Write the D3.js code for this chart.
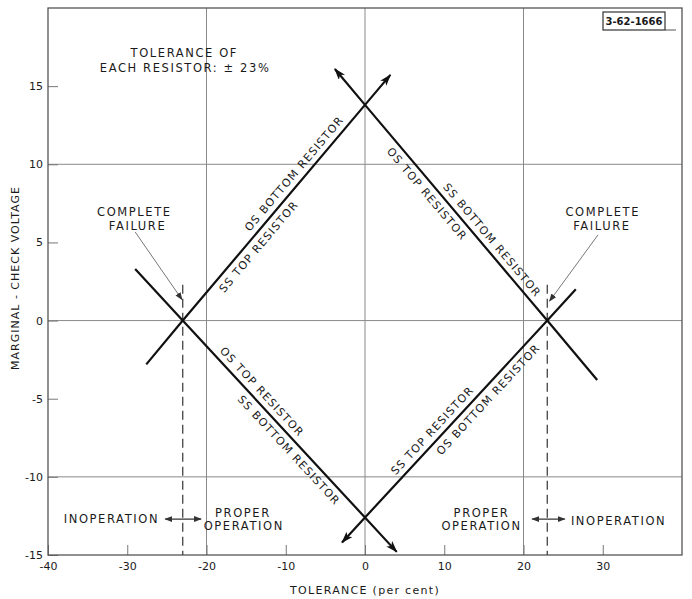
<!DOCTYPE html>
<html><head><meta charset="utf-8">
<script src="https://cdn.jsdelivr.net/npm/d3@7"></script>
<style>
body{margin:0;background:#fff;}
text{font-family:"DejaVu Sans",sans-serif;fill:#1a1a1a;}
</style></head>
<body><svg id="c" width="692" height="599"></svg>
<script>
// ---- data ----
const xTicks = [-40,-30,-20,-10,0,10,20,30];
const xTickLabels = ["-40","-30","-20","-10","0","10","20","30"];
const yTicks = [-15,-10,-5,0,5,10,15];
const yTickLabels = ["-15","-10","-5","0","5","10","15"];
const xGrid = [-20,0,20];
const yGrid = [-10,0,10];
const failX = [-23,23];
const failTopY = 2.3;
// characteristic lines (tolerance %, marginal-check volts)
const lineA = [[-27.6,-2.8],[-23,0],[0,13.8],[3.2,15.72]];   // arrow at end
const lineB = [[-29,3.3],[-23,0],[0,-12.6],[4,-14.8]];       // arrow at end
const lineC = [[-3.8,16.1],[0,13.8],[23,0],[29.3,-3.8]];     // arrow at start
const lineD = [[-2.9,-14.2],[0,-12.6],[23,0],[26.6,2.0]];    // arrow at start
const lines = [lineA,lineB,lineC,lineD];
const arrowAtEnd = [true,true,false,false];
const lineLabelText = ["OS BOTTOM RESISTOR","SS TOP RESISTOR","OS TOP RESISTOR","SS BOTTOM RESISTOR",
                       "OS TOP RESISTOR","SS BOTTOM RESISTOR","SS TOP RESISTOR","OS BOTTOM RESISTOR"];
const lineLabelLine = [0,0,1,1,2,2,3,3];
const lineLabelX = [-8.0,-14.4,-13.9,-8.65,8.8,15.1,9.4,14.6];
const lineLabelSide = [1,-1,1,-1,-1,1,1,-1]; // 1 = above line
// annotations
const noteText = ["TOLERANCE OF","EACH RESISTOR: \u00b1 23%","COMPLETE","FAILURE","COMPLETE","FAILURE",
                  "INOPERATION","PROPER","OPERATION","PROPER","OPERATION","INOPERATION"];
const noteX = [-22.8,-22.7,-29.1,-28.7,30.0,29.9,-32.0,-15.4,-15.3,14.7,14.7,32.0];
const noteY = [17.12,16.16,6.95,6.05,6.95,6.05,-12.7,-12.3,-13.15,-12.3,-13.15,-12.8];
const leaderFrom = [[-29.0,5.67],[29.4,5.48]];
const leaderTo = [[-23.1,1.35],[23.3,1.25]];
const dblArrowY = -12.7;
const dblArrowX = [[-25.2,-20.7],[21.1,25.2]];
const figId = "3-62-1666";
const xTitle = "TOLERANCE  (per cent)";
const yTitle = "MARGINAL - CHECK  VOLTAGE";

// ---- drawing ----
const svg = d3.select("#c");
const x = d3.scaleLinear().domain([-40,40]).range([48,682]);
const y = d3.scaleLinear().domain([-15,20]).range([555,8]);
const L = 48, R = 682, T = 8, B = 555;

const defs = svg.append("defs");
defs.append("marker").attr("id","ah").attr("markerUnits","userSpaceOnUse")
  .attr("markerWidth",14).attr("markerHeight",10).attr("refX",11).attr("refY",4)
  .attr("orient","auto-start-reverse")
  .append("path").attr("d","M0,0 L12,4 L0,8 L3,4 Z").attr("fill","#111");
defs.append("marker").attr("id","ahs").attr("markerUnits","userSpaceOnUse")
  .attr("markerWidth",10).attr("markerHeight",8).attr("refX",7).attr("refY",3)
  .attr("orient","auto-start-reverse")
  .append("path").attr("d","M0,0 L8,3 L0,6 Z").attr("fill","#333");

// grid
svg.append("g").selectAll("line").data(xGrid).join("line")
  .attr("x1",d=>x(d)).attr("x2",d=>x(d)).attr("y1",T).attr("y2",B)
  .attr("stroke","#8a8a8a").attr("stroke-width",1);
svg.append("g").selectAll("line").data(yGrid).join("line")
  .attr("y1",d=>y(d)).attr("y2",d=>y(d)).attr("x1",L).attr("x2",R)
  .attr("stroke","#8a8a8a").attr("stroke-width",1);

// axes
const gx = svg.append("g").attr("transform",`translate(0,${B})`)
  .call(d3.axisBottom(x).tickValues(xTicks).tickFormat((d,i)=>xTickLabels[i]).tickSizeInner(-10).tickSizeOuter(0).tickPadding(14));
const gy = svg.append("g").attr("transform",`translate(${L},0)`)
  .call(d3.axisLeft(y).tickValues(yTicks).tickFormat((d,i)=>yTickLabels[i]).tickSizeInner(-10).tickSizeOuter(0).tickPadding(14));
[gx,gy].forEach(g=>{
  g.select(".domain").remove();
  g.selectAll(".tick line").attr("stroke","#777");
  g.selectAll(".tick text").attr("font-size",11).attr("fill","#1a1a1a").style("font-family","DejaVu Sans");
});
gx.selectAll(".tick text").attr("dy","0.35em").attr("y",11);
gy.selectAll(".tick text").attr("x",-5);

// frame
svg.append("rect").attr("x",L).attr("y",T).attr("width",R-L).attr("height",B-T)
  .attr("fill","none").attr("stroke","#555").attr("stroke-width",1.3);

// dashed failure lines
svg.append("g").selectAll("line").data(failX).join("line")
  .attr("x1",d=>x(d)).attr("x2",d=>x(d)).attr("y1",y(failTopY)).attr("y2",B)
  .attr("stroke","#444").attr("stroke-width",1.3).attr("stroke-dasharray","9,5");

// characteristic lines
const lg = d3.line().x(d=>x(d[0])).y(d=>y(d[1]));
svg.append("g").selectAll("path").data(lines).join("path")
  .attr("d",lg).attr("fill","none").attr("stroke","#111").attr("stroke-width",2.2)
  .attr("marker-end",(d,i)=>arrowAtEnd[i]?"url(#ah)":null)
  .attr("marker-start",(d,i)=>arrowAtEnd[i]?null:"url(#ah)");

// labels along lines
lineLabelText.forEach((t,i)=>{
  const pts = lines[lineLabelLine[i]];
  const xv = lineLabelX[i];
  let seg = 0;
  for(let k=0;k<pts.length-1;k++){ if(xv>=pts[k][0] && xv<=pts[k+1][0]) seg=k; }
  const p0 = pts[seg], p1 = pts[seg+1];
  const f = (xv-p0[0])/(p1[0]-p0[0]);
  const yv = p0[1]+f*(p1[1]-p0[1]);
  const dx = x(p1[0])-x(p0[0]), dy = y(p1[1])-y(p0[1]);
  const phi = Math.atan2(dy,dx);
  const off = 10*lineLabelSide[i];
  const cx = x(xv)+off*Math.sin(phi), cy = y(yv)-off*Math.cos(phi);
  svg.append("text").attr("transform",`translate(${cx},${cy}) rotate(${phi*180/Math.PI})`)
    .attr("text-anchor","middle").attr("dy","0.36em").attr("font-size",11)
    .attr("letter-spacing",1.2).text(t);
});

// notes
svg.append("g").selectAll("text").data(noteText).join("text")
  .attr("x",(d,i)=>x(noteX[i])).attr("y",(d,i)=>y(noteY[i])).attr("dy","0.36em")
  .attr("text-anchor","middle").attr("font-size",11.5).attr("letter-spacing",1.6).text(d=>d);

// leader arrows
svg.append("g").selectAll("line").data(leaderFrom).join("line")
  .attr("x1",d=>x(d[0])).attr("y1",d=>y(d[1]))
  .attr("x2",(d,i)=>x(leaderTo[i][0])).attr("y2",(d,i)=>y(leaderTo[i][1]))
  .attr("stroke","#777").attr("stroke-width",1).attr("marker-end","url(#ahs)");

// double arrows
svg.append("g").selectAll("line").data(dblArrowX).join("line")
  .attr("x1",d=>x(d[0])).attr("x2",d=>x(d[1])).attr("y1",y(dblArrowY)).attr("y2",y(dblArrowY))
  .attr("stroke","#333").attr("stroke-width",1.2)
  .attr("marker-end","url(#ahs)").attr("marker-start","url(#ahs)");

// figure id box
svg.append("rect").attr("x",603).attr("y",12).attr("width",62).attr("height",18)
  .attr("fill","#fff").attr("stroke","#333").attr("stroke-width",1.2);
svg.append("line").attr("x1",665).attr("x2",676).attr("y1",30).attr("y2",30).attr("stroke","#555");
svg.append("text").attr("x",634).attr("y",21).attr("dy","0.36em").attr("text-anchor","middle")
  .attr("font-size",10).attr("font-weight","bold").text(figId);

// axis titles
svg.append("text").attr("x",365).attr("y",590).attr("dy","0.36em").attr("text-anchor","middle")
  .attr("font-size",11).attr("letter-spacing",1.3).text(xTitle);
svg.append("text").attr("transform","translate(15,278) rotate(-90)").attr("dy","0.36em")
  .attr("text-anchor","middle").attr("font-size",11).attr("letter-spacing",1.0).text(yTitle);
</script></body></html>
